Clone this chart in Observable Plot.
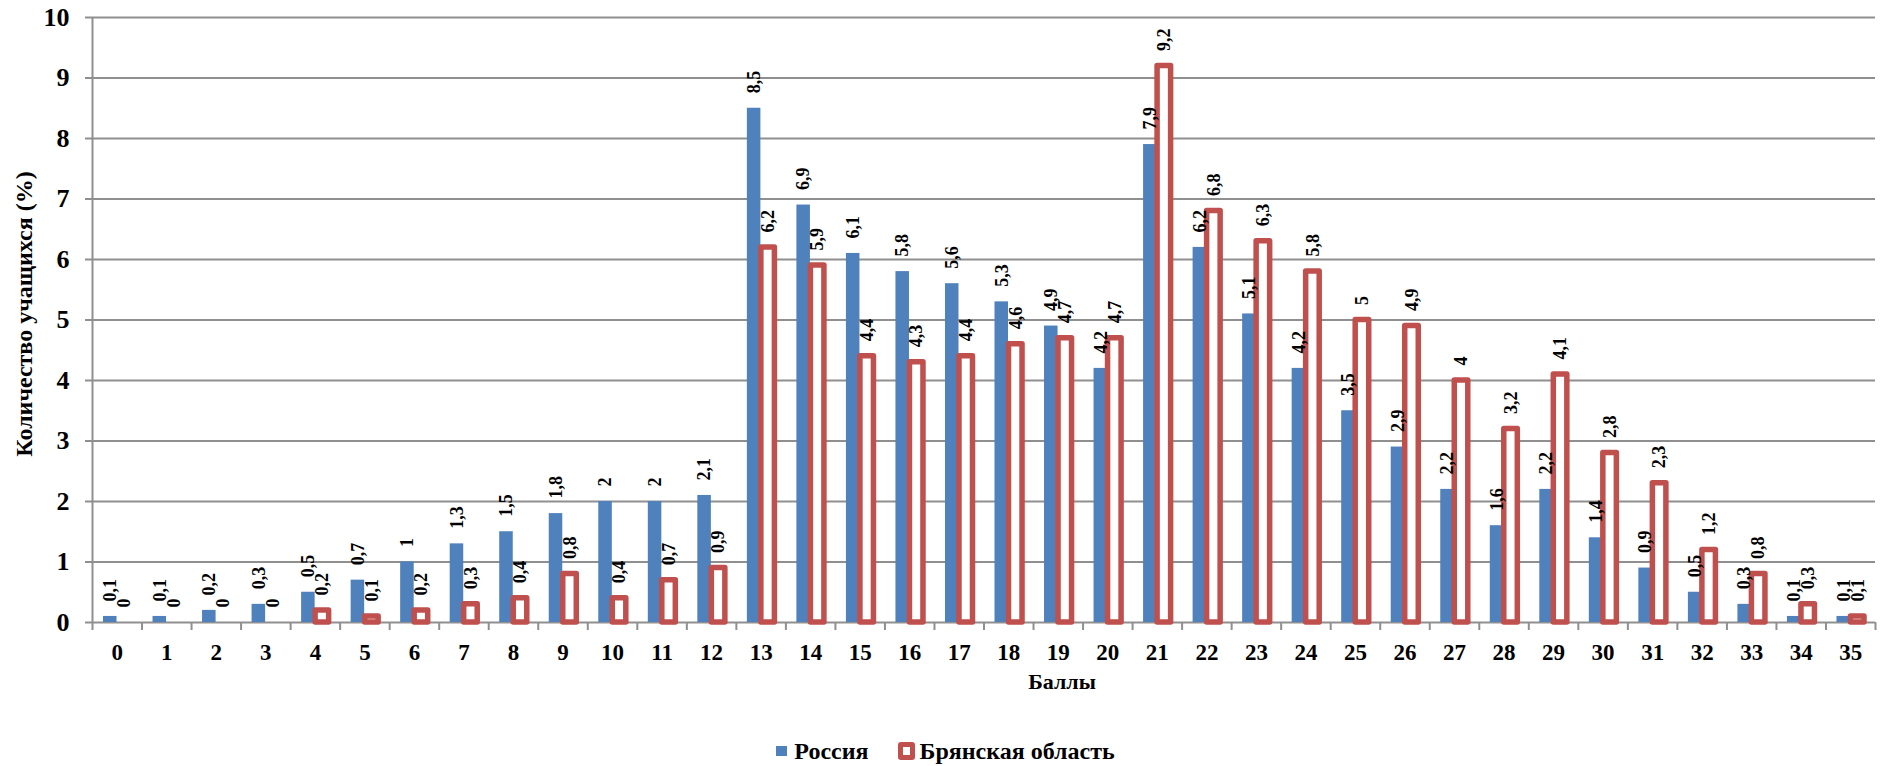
<!DOCTYPE html>
<html>
<head>
<meta charset="utf-8">
<script src="https://cdn.jsdelivr.net/npm/d3@7"></script>
<script src="https://cdn.jsdelivr.net/npm/@observablehq/plot@0.6"></script>
<style>
  html, body { margin: 0; padding: 0; background: #fff; }
  body { width: 1881px; font-family: "Liberation Serif", "Times New Roman", serif; }
  #chart svg { display: block; }
  #legend { height: 36px; box-sizing: border-box; padding-top: 6px; padding-left: 10px; display: flex; justify-content: center; align-items: center; font-weight: bold; font-size: 24px; color: #000; }
  #legend .sw1 { width: 11px; height: 10px; background: #4F81BD; margin-right: 7px; }
  #legend .sw2 { width: 17px; height: 18px; box-sizing: border-box; border: 5px solid #C0504D; border-radius: 3px; background: #fff; margin-right: 5px; margin-left: 29px; }
</style>
</head>
<body>
<div id="chart"></div>
<div id="legend"><span class="sw1"></span><span>Россия</span><span class="sw2"></span><span>Брянская область</span></div>
<script>
const scores = [0,1,2,3,4,5,6,7,8,9,10,11,12,13,14,15,16,17,18,19,20,21,22,23,24,25,26,27,28,29,30,31,32,33,34,35];
const russia = [0.1,0.1,0.2,0.3,0.5,0.7,1,1.3,1.5,1.8,2,2,2.1,8.5,6.9,6.1,5.8,5.6,5.3,4.9,4.2,7.9,6.2,5.1,4.2,3.5,2.9,2.2,1.6,2.2,1.4,0.9,0.5,0.3,0.1,0.1];
const bryansk = [0,0,0,0,0.2,0.1,0.2,0.3,0.4,0.8,0.4,0.7,0.9,6.2,5.9,4.4,4.3,4.4,4.6,4.7,4.7,9.2,6.8,6.3,5.8,5,4.9,4,3.2,4.1,2.8,2.3,1.2,0.8,0.3,0.1];
const yTicks = [0,1,2,3,4,5,6,7,8,9,10];
const seriesNames = ["Россия", "Брянская область"];
const yTitle = "Количество учащихся (%)";
const xTitle = "Баллы";

const table = scores.map((s, i) => ({score: s, russia: russia[i], bryansk: bryansk[i]}));
const boundaries = scores.map(s => s - 0.5).concat([scores[scores.length - 1] + 0.5]);
const fmt = v => String(v).replace(".", ",");
const gray = "#8f8f8f";
const blue = "#4F81BD";
const red = "#C0504D";
const font = "'Liberation Serif', 'Times New Roman', serif";

const chart = Plot.plot({
  width: 1881,
  height: 730,
  marginLeft: 92,
  marginRight: 6,
  marginTop: 17,
  marginBottom: 108,
  x: {type: "linear", domain: [-0.5, 35.5]},
  y: {domain: [0, 10]},
  style: {fontFamily: font, background: "white", color: "black"},
  marks: [
    Plot.gridY(yTicks.filter(t => t > 0), {stroke: gray, strokeOpacity: 1, strokeWidth: 2}),
    Plot.ruleX([-0.5], {stroke: gray, strokeWidth: 2}),
    Plot.ruleY([0], {stroke: gray, strokeWidth: 2}),
    Plot.axisY({ticks: yTicks, tickSize: 7, tickPadding: 16, fontSize: 26, fontWeight: "bold", stroke: gray, strokeWidth: 2, label: null, tickFormat: d => String(d)}),
    Plot.axisX({ticks: boundaries, tickSize: 8, tickFormat: () => "", stroke: gray, strokeWidth: 2, label: null}),
    Plot.axisX({ticks: scores, tickSize: 0, tickPadding: 21, fontSize: 23, fontWeight: "bold", label: null, tickFormat: d => String(d)}),
    Plot.rectY(table, {x1: d => d.score - 0.5, x2: d => d.score + 0.5, y: "russia", insetLeft: 11, insetRight: 25, fill: blue}),
    Plot.rectY(table.filter(d => d.bryansk > 0), {x1: d => d.score - 0.5, x2: d => d.score + 0.5, y: "bryansk", insetLeft: 25, insetRight: 11, fill: "white", stroke: red, strokeWidth: 5.5, strokeLinejoin: "round"}),
    Plot.text(table, {x: "score", y: "russia", text: d => fmt(d.russia), rotate: -90, textAnchor: "start", dx: -7, dy: -15, fontSize: 18, fontWeight: "bold", fill: "black"}),
    Plot.text(table, {x: "score", y: "bryansk", text: d => fmt(d.bryansk), rotate: -90, textAnchor: "start", dx: 7, dy: -15, fontSize: 18, fontWeight: "bold", fill: "black"}),
    Plot.text([yTitle], {frameAnchor: "left", textAnchor: "middle", text: d => d, rotate: -90, dx: -68, dy: -6, fontSize: 24, fontWeight: "bold", fill: "black"}),
    Plot.text([xTitle], {frameAnchor: "bottom", text: d => d, dx: 78, dy: 66, fontSize: 22, fontWeight: "bold", fill: "black"})
  ]
});
document.getElementById("chart").appendChild(chart);
</script>
</body>
</html>
